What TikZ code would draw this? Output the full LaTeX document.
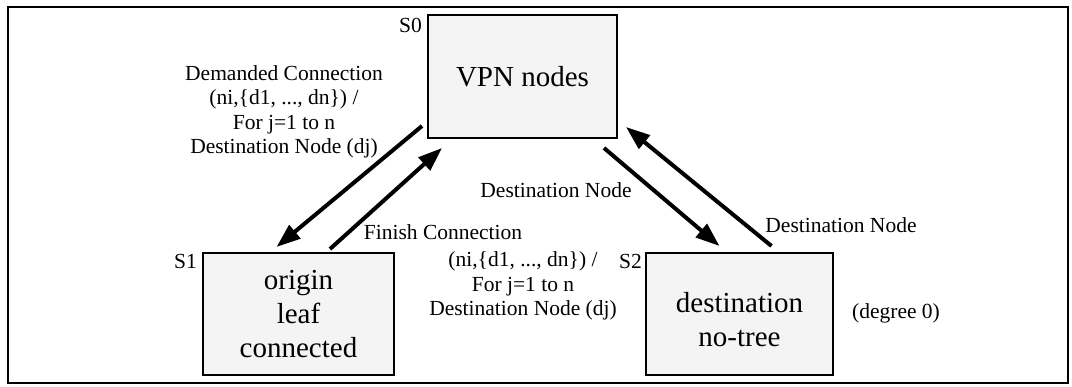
\documentclass[tikz,border=0pt]{standalone}
\usepackage{fontspec}
\setmainfont{Liberation Serif}
\usetikzlibrary{arrows.meta,calc}
\tikzset{
  statebox/.style={draw=black, line width=2pt, fill=gray!9, inner sep=0pt, align=center,
    font=\fontsize{29}{34}\selectfont},
  boxtext/.style={inner sep=0pt, align=center, font=\fontsize{29}{34}\selectfont},
  lbl/.style={inner sep=0pt, align=center, font=\fontsize{21.5}{24.5}\selectfont},
  trans/.style={line width=4pt, -{Triangle[length=24pt,width=17pt]}},
}
\begin{document}
\begin{tikzpicture}[x=1pt,y=-1pt]
\useasboundingbox (0,0) rectangle (1072,386);
\draw[line width=2.5pt] (8,7) rectangle (1068,383);
% states
\node[statebox, minimum width=189pt, minimum height=123pt] (s0) at (522.5,76.5) {VPN nodes};
\node[statebox, minimum width=191pt, minimum height=122pt] (s1) at (298.5,314) {origin\\leaf\\connected};
\node[statebox, minimum width=187pt, minimum height=122pt] (s2) at (739.5,314) {};
\node[boxtext] (s2t) at ([shift={(0,6)}]s2.center) {destination\\no-tree};
% state names
\node[lbl, anchor=base east] (n0) at (422,32) {S0};
\node[lbl, anchor=base east] (n1) at (197,268) {S1};
\node[lbl, anchor=base east] (n2) at (642,268) {S2};
% transitions
\draw[trans] ([shift={(-5,-13)}]s0.south west) -- ([shift={(-22,-5)}]s1.north);
\draw[trans] ([shift={(31.5,-3)}]s1.north) -- ([shift={(15,9)}]s0.south west);
\draw[trans] ([shift={(-14,9)}]s0.south east) -- ([shift={(-20,-6)}]s2.north);
\draw[trans] ([shift={(32,-6)}]s2.north) -- ([shift={(8,-12)}]s0.south east);
% labels
\node[lbl] (l1) at (284,112) {Demanded Connection\\(ni,\{d1, ..., dn\}) /\\For j=1 to n\\Destination Node (dj)};
\node[lbl, anchor=base] (l2a) at (443,239) {Finish Connection};
\node[lbl] (l2b) at (523,286) {(ni,\{d1, ..., dn\}) /\\For j=1 to n\\Destination Node (dj)};
\node[lbl, anchor=base] (l3) at (556,197) {Destination Node};
\node[lbl, anchor=base] (l4) at (841,232) {Destination Node};
\node[lbl, anchor=base] (deg) at (896,318) {(degree 0)};
\end{tikzpicture}
\end{document}
